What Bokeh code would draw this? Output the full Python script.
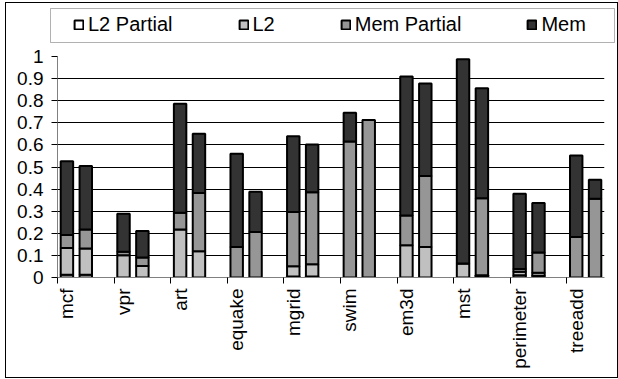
import math
from bokeh.plotting import figure
from bokeh.layouts import column
from bokeh.models import Range1d, FixedTicker, Legend, LegendItem, ColumnDataSource, BoxAnnotation
from bokeh.embed import file_html
from bokeh.resources import INLINE

benchmarks = ["mcf", "vpr", "art", "equake", "mgrid", "swim", "em3d", "mst", "perimeter", "treeadd"]
series = ["L2 Partial", "L2", "Mem Partial", "Mem"]
series_colors = ["#ffffff", "#c0c0c0", "#969696", "#333333"]

# left bar of each benchmark: segment heights (bottom to top)
l2p_1 = [0.013, 0.000, 0.000, 0.000, 0.004, 0.000, 0.000, 0.000, 0.010, 0.000]
l2_1 = [0.121, 0.101, 0.217, 0.000, 0.047, 0.000, 0.146, 0.063, 0.016, 0.000]
memp_1 = [0.058, 0.015, 0.076, 0.138, 0.245, 0.615, 0.135, 0.000, 0.012, 0.183]
mem_1 = [0.334, 0.173, 0.493, 0.422, 0.343, 0.130, 0.629, 0.925, 0.341, 0.369]
# right bar of each benchmark
l2p_2 = [0.013, 0.000, 0.000, 0.000, 0.005, 0.000, 0.000, 0.004, 0.008, 0.000]
l2_2 = [0.118, 0.052, 0.119, 0.000, 0.055, 0.000, 0.138, 0.006, 0.014, 0.000]
memp_2 = [0.086, 0.038, 0.263, 0.206, 0.326, 0.713, 0.321, 0.349, 0.091, 0.356]
mem_2 = [0.288, 0.120, 0.269, 0.182, 0.216, 0.000, 0.419, 0.497, 0.224, 0.086]

y_ticks = [0, 0.1, 0.2, 0.3, 0.4, 0.5, 0.6, 0.7, 0.8, 0.9, 1]
y_tick_labels = ["0", "0.1", "0.2", "0.3", "0.4", "0.5", "0.6", "0.7", "0.8", "0.9", "1"]

# layout: each benchmark has 3 slots (bar, bar, gap), last gap omitted
n = len(benchmarks)
x1 = [3 * i + 0.5 for i in range(n)]
x2 = [3 * i + 1.5 for i in range(n)]
boundaries = [3 * i for i in range(n)]

src = ColumnDataSource(dict(
    x=x1 + x2,
    l2p=l2p_1 + l2p_2,
    l2=l2_1 + l2_2,
    memp=memp_1 + memp_2,
    mem=mem_1 + mem_2,
))
keys = ["l2p", "l2", "memp", "mem"]

FONT = "Liberation Sans"
W = 611
H_LEG = 43
H_MAIN = 331

# ---------- legend strip ----------
pl = figure(width=W, height=H_LEG, output_backend="svg", toolbar_location=None,
            x_range=Range1d(0, W), y_range=Range1d(0, H_LEG),
            x_axis_location=None, y_axis_location=None,
            min_border=0, min_border_left=0, min_border_right=0,
            min_border_top=0, min_border_bottom=0, frame_align=False)
pl.outline_line_color = None
pl.xgrid.visible = False
pl.ygrid.visible = False
leg_renderers = pl.vbar_stack(keys, x="x", width=0.66, source=src,
                              fill_color=series_colors, line_color="black", line_width=2)
for r in leg_renderers:
    r.visible = False
pl.add_layout(BoxAnnotation(left=44, right=608, bottom=4, top=38,
                            fill_color="white", fill_alpha=1.0,
                            line_color="black", line_width=1))
legend = Legend(items=[LegendItem(label=s, renderers=[r]) for s, r in zip(series, leg_renderers)],
                orientation="horizontal", location=(67, 10),
                label_text_font=FONT, label_text_font_size="20px", label_text_color="black",
                glyph_width=11, glyph_height=11, label_standoff=4, label_height=20,
                padding=0, spacing=65, margin=0,
                border_line_color=None, background_fill_alpha=0.0,
                inactive_fill_alpha=0.0)
pl.add_layout(legend)

# ---------- main chart ----------
p = figure(width=W, height=H_MAIN, output_backend="svg", toolbar_location=None,
           x_range=Range1d(0, 3 * n - 1), y_range=Range1d(0, 1),
           min_border_left=51, min_border_right=13, min_border_top=10, min_border_bottom=100,
           frame_align=False)
p.outline_line_color = None

p.vbar_stack(keys, x="x", width=0.66, source=src,
             fill_color=series_colors, line_color="black", line_width=2)

p.xgrid.visible = False
p.ygrid.grid_line_color = "black"
p.ygrid.grid_line_width = 1
p.ygrid.ticker = FixedTicker(ticks=y_ticks)

p.yaxis.ticker = FixedTicker(ticks=y_ticks)
p.yaxis.major_label_overrides = {t: s for t, s in zip(y_ticks, y_tick_labels)}
p.yaxis.axis_line_color = "#808080"
p.yaxis.major_tick_line_color = "black"
p.yaxis.major_tick_out = 6
p.yaxis.major_tick_in = 0
p.yaxis.minor_tick_line_color = None
p.yaxis.major_label_standoff = 8
p.yaxis.major_label_text_font = FONT
p.yaxis.major_label_text_font_size = "19px"
p.yaxis.major_label_text_color = "black"

p.xaxis.ticker = FixedTicker(ticks=x1, minor_ticks=boundaries)
p.xaxis.major_label_overrides = {t: s for t, s in zip(x1, benchmarks)}
p.xaxis.axis_line_color = "#808080"
p.xaxis.major_tick_line_color = None
p.xaxis.major_tick_out = 0
p.xaxis.major_tick_in = 0
p.xaxis.minor_tick_line_color = "black"
p.xaxis.minor_tick_out = 6
p.xaxis.minor_tick_in = 0
p.xaxis.major_label_orientation = math.pi / 2
p.xaxis.major_label_standoff = 5
p.xaxis.major_label_text_font = FONT
p.xaxis.major_label_text_font_size = "19px"
p.xaxis.major_label_text_color = "black"

layout = column(pl, p, spacing=0,
                styles={"border": "1px solid black", "margin-left": "5px", "margin-top": "2px"})

open("out.html", "w").write(file_html(layout, INLINE))
